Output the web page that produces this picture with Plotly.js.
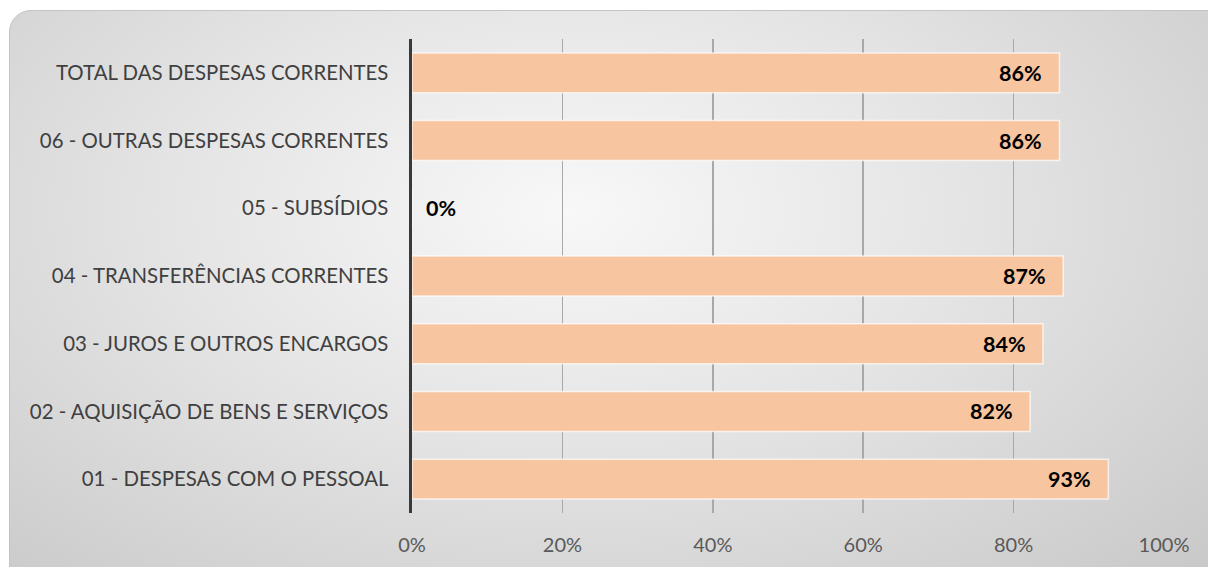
<!DOCTYPE html>
<html>
<head>
<meta charset="utf-8">
<script src="https://cdn.plot.ly/plotly-3.0.1.min.js"></script>
<style>
  html, body { margin: 0; padding: 0; background: #ffffff; }
  #wrap { position: absolute; left: 0; top: 0; width: 1208px; height: 567px; overflow: hidden; }
  #bg { position: absolute; left: 9px; top: 10px; width: 1220px; height: 580px;
        border: 1.5px solid #c4c4c4; border-radius: 22px;
        background: radial-gradient(ellipse 900px 520px at 560px 200px, #f8f8f8 0%, #e4e4e4 45%, #c8c8c8 100%); }
  #chart { position: absolute; left: 0; top: 0; width: 1208px; height: 567px; }
</style>
</head>
<body>
<div id="wrap">
  <div id="bg"></div>
  <div id="chart"></div>
</div>
<script>
const categories = [
  "01 - DESPESAS COM O PESSOAL",
  "02 - AQUISIÇÃO DE BENS E SERVIÇOS",
  "03 - JUROS E OUTROS ENCARGOS",
  "04 - TRANSFERÊNCIAS CORRENTES",
  "05 - SUBSÍDIOS",
  "06 - OUTRAS DESPESAS CORRENTES",
  "TOTAL DAS DESPESAS CORRENTES"
];
const values = [0.926, 0.822, 0.839, 0.866, 0, 0.861, 0.861];
const labels = ["93%", "82%", "84%", "87%", "0%", "86%", "86%"];
const tickVals = [0, 0.2, 0.4, 0.6, 0.8, 1.0];
const tickText = ["0%", "20%", "40%", "60%", "80%", "100%"];

const fontFam = "Lato, 'Open Sans', sans-serif";

const trace = {
  type: "bar",
  orientation: "h",
  y: categories,
  x: values,
  marker: { color: "#f7c59f", line: { color: "rgba(255,255,255,0.7)", width: 1.5 } },
  hoverinfo: "skip"
};

const annotations = values.map((v, i) => ({
  x: v, y: categories[i], xref: "x", yref: "y",
  text: "<b>" + labels[i] + "</b>",
  showarrow: false,
  xanchor: v > 0 ? "right" : "left",
  xshift: v > 0 ? -15 : 12,
  font: { family: fontFam, size: 21.5, color: "#000000" }
}));

const layout = {
  width: 1208, height: 567,
  paper_bgcolor: "rgba(0,0,0,0)",
  plot_bgcolor: "rgba(0,0,0,0)",
  margin: { l: 411.5, r: 44, t: 39, b: 54 },
  bargap: 0.41,
  showlegend: false,
  xaxis: {
    range: [0, 1.0],
    tickvals: tickVals, ticktext: tickText,
    showgrid: true, gridcolor: "#a8a8a8", gridwidth: 1.5,
    zeroline: false, showline: false, ticks: "",
    ticklabelstandoff: 18,
    tickfont: { family: fontFam, size: 20, color: "#595959" },
    fixedrange: true
  },
  yaxis: {
    type: "category",
    categoryorder: "array", categoryarray: categories,
    showgrid: false, zeroline: false,
    showline: true, linecolor: "#3a3a3a", linewidth: 3.5,
    ticks: "",
    ticklabelstandoff: 16,
    tickfont: { family: fontFam, size: 20.4, color: "#404040" },
    fixedrange: true
  },
  annotations: annotations
};

Plotly.newPlot("chart", [trace], layout, { displayModeBar: false, staticPlot: true });
</script>
</body>
</html>
